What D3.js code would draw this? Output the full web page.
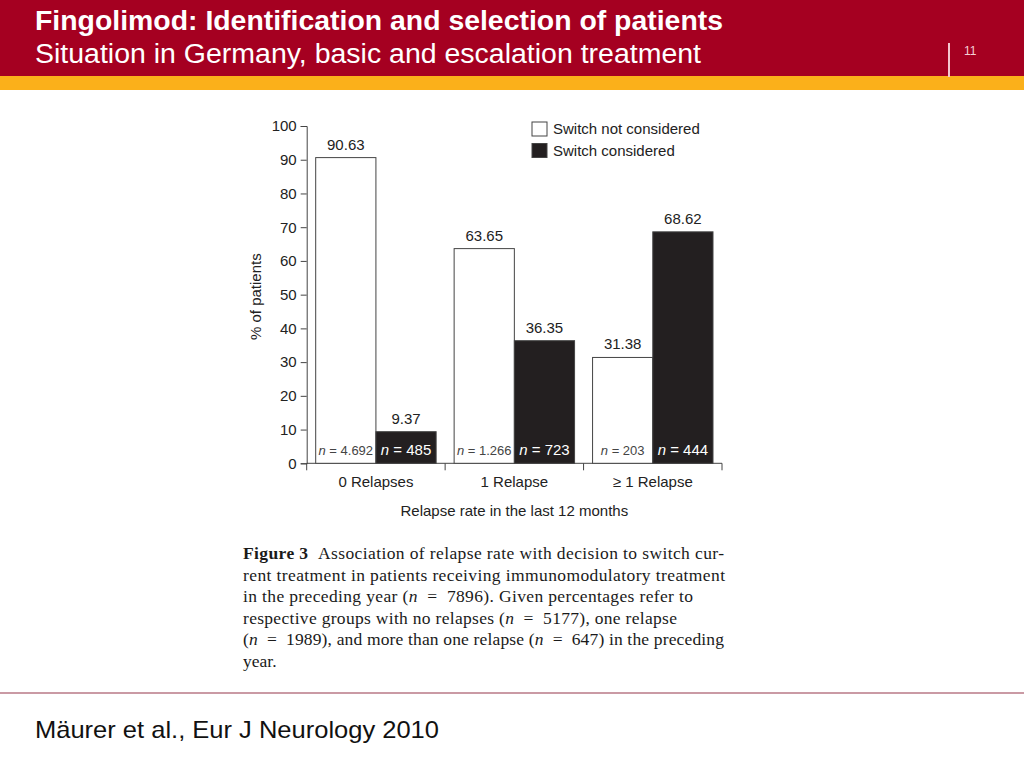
<!DOCTYPE html>
<html>
<head>
<meta charset="utf-8">
<script src="https://cdn.jsdelivr.net/npm/d3@7"></script>
<style>
  html, body { margin: 0; padding: 0; background: #fff; }
  svg { display: block; }
  text { font-family: "Liberation Sans", Arial, sans-serif; }
</style>
</head>
<body>
<svg id="slide" width="1024" height="768"></svg>
<script>
// --- daten ---
const categories    = ['0 Relapses', '1 Relapse', '\u2265 1 Relapse'];
const notConsidered = [90.63, 63.65, 31.38];
const considered    = [9.37, 36.35, 68.62];
const nNot          = ['4.692', '1.266', '203'];
const nCons         = ['485', '723', '444'];
const yTicks        = [0, 10, 20, 30, 40, 50, 60, 70, 80, 90, 100];
const series        = ['Switch not considered', 'Switch considered'];
const captionLines  = [
  'Association of relapse rate with decision to switch cur-',
  'rent treatment in patients receiving immunomodulatory treatment',
  'in the preceding year (n  =  7896). Given percentages refer to',
  'respective groups with no relapses (n  =  5177), one relapse',
  '(n  =  1989), and more than one relapse (n  =  647) in the preceding',
  'year.'
];
// rechter rand jeder zeile (0 = nicht gesperrt)
const captionEnds   = [724, 725, 693, 677, 724, 0];

const svg = d3.select('#slide');

// --- kopfzeile ---
svg.append('rect').attr('x', 0).attr('y', 0).attr('width', 1024).attr('height', 76).attr('fill', '#a50021');
svg.append('rect').attr('x', 0).attr('y', 76).attr('width', 1024).attr('height', 14).attr('fill', '#fbb01a');
svg.append('text').attr('x', 35).attr('y', 30)
  .attr('font-size', 27).attr('font-weight', 'bold').attr('fill', '#fff')
  .attr('textLength', 688).attr('lengthAdjust', 'spacingAndGlyphs')
  .text('Fingolimod: Identification and selection of patients');
svg.append('text').attr('x', 35).attr('y', 63)
  .attr('font-size', 27).attr('fill', '#fff')
  .attr('textLength', 666).attr('lengthAdjust', 'spacingAndGlyphs')
  .text('Situation in Germany, basic and escalation treatment');
svg.append('line').attr('x1', 949).attr('x2', 949).attr('y1', 43).attr('y2', 77)
  .attr('stroke', '#f4c6cf').attr('stroke-width', 2);
svg.append('text').attr('x', 964).attr('y', 55).attr('font-size', 12).attr('fill', '#f4d0d6').text('11');

// --- diagramm ---
const x0 = 306.7, x1 = 722, yTop = 126, yBase = 463.3;

const x = d3.scaleBand().domain(categories).range([x0, x1])
  .paddingInner(0.13).paddingOuter(0.065);
const xs = d3.scaleBand().domain([0, 1]).range([0, x.bandwidth()]);
const y = d3.scaleLinear().domain([0, 100]).range([yBase, yTop]);

const chart = svg.append('g');

// y-achse
const yAxis = chart.append('g').attr('transform', `translate(${x0},0)`)
  .call(d3.axisLeft(y).tickValues(yTicks).tickSize(6).tickPadding(4));
yAxis.selectAll('text').attr('font-size', 15).attr('fill', '#222')
  .style('font-family', '"Liberation Sans", Arial, sans-serif');
yAxis.selectAll('line, path').attr('stroke', '#444');

// x-achse
const xAxis = chart.append('g').attr('transform', `translate(0,${yBase})`);
xAxis.append('line').attr('x1', x0).attr('x2', x1).attr('y1', 0).attr('y2', 0).attr('stroke', '#444');
const bounds = categories.map(c => x(c) - x.step() * x.paddingOuter())
  .concat([x1]);
xAxis.selectAll('line.tk').data(bounds).join('line').attr('class', 'tk')
  .attr('x1', d => d).attr('x2', d => d).attr('y1', 0).attr('y2', 7).attr('stroke', '#444');
xAxis.selectAll('text.cat').data(categories).join('text').attr('class', 'cat')
  .attr('x', d => x(d) + x.bandwidth() / 2).attr('y', 24)
  .attr('text-anchor', 'middle').attr('font-size', 15).attr('fill', '#222')
  .text(d => d);

chart.append('text').attr('x', (x0 + x1) / 2).attr('y', 516)
  .attr('text-anchor', 'middle').attr('font-size', 15).attr('fill', '#222')
  .text('Relapse rate in the last 12 months');
chart.append('text').attr('transform', `translate(261,${(yTop + yBase) / 2 + 2}) rotate(-90)`)
  .attr('text-anchor', 'middle').attr('font-size', 15).attr('fill', '#222')
  .text('% of patients');

// balken
const rows = categories.map((c, i) => [
  { cat: c, k: 0, v: notConsidered[i], n: nNot[i] },
  { cat: c, k: 1, v: considered[i], n: nCons[i] }
]).flat();

chart.selectAll('rect.bar').data(rows).join('rect').attr('class', 'bar')
  .attr('x', d => x(d.cat) + xs(d.k)).attr('width', xs.bandwidth())
  .attr('y', d => y(d.v)).attr('height', d => yBase - y(d.v))
  .attr('fill', d => d.k ? '#231f20' : '#fff')
  .attr('stroke', '#444').attr('stroke-width', 1);

chart.selectAll('text.val').data(rows).join('text').attr('class', 'val')
  .attr('x', d => x(d.cat) + xs(d.k) + xs.bandwidth() / 2).attr('y', d => y(d.v) - 8)
  .attr('text-anchor', 'middle').attr('font-size', 15).attr('fill', '#222')
  .text(d => d.v.toFixed(2));

const nl = chart.selectAll('text.n').data(rows).join('text').attr('class', 'n')
  .attr('x', d => x(d.cat) + xs(d.k) + xs.bandwidth() / 2).attr('y', yBase - 8)
  .attr('text-anchor', 'middle').attr('font-size', d => d.k ? 15 : 13)
  .attr('fill', d => d.k ? '#fff' : '#444');
nl.append('tspan').attr('font-style', 'italic').text('n');
nl.append('tspan').text(d => ' = ' + d.n);

// legende
const lg = chart.selectAll('g.lg').data(series).join('g').attr('class', 'lg')
  .attr('transform', (d, i) => `translate(532,${122 + i * 21.5})`);
lg.append('rect').attr('width', 15).attr('height', 14)
  .attr('fill', (d, i) => i ? '#231f20' : '#fff').attr('stroke', '#444');
lg.append('text').attr('x', 21).attr('y', 12).attr('font-size', 15).attr('fill', '#222').text(d => d);

// bildunterschrift
const cap = svg.append('g');
captionLines.forEach((line, i) => {
  const t = cap.append('text').attr('x', 243).attr('y', 559 + i * 21.6)
    .attr('font-size', 17.5).attr('fill', '#1a1a1a')
    .style('font-family', '"Liberation Serif", "Times New Roman", serif')
    .style('white-space', 'pre');
  if (captionEnds[i]) t.attr('textLength', captionEnds[i] - 243).attr('lengthAdjust', 'spacing');
  if (i === 0) {
    t.append('tspan').attr('font-weight', 'bold').text('Figure 3  ');
  }
  // kursives n
  line.split(/(\bn\b)/).forEach(part => {
    const s = t.append('tspan').text(part);
    if (part === 'n') s.attr('font-style', 'italic');
  });
});

// fuß
svg.append('line').attr('x1', 0).attr('x2', 1024).attr('y1', 693).attr('y2', 693)
  .attr('stroke', '#b87886').attr('stroke-width', 1.5);
svg.append('text').attr('x', 35).attr('y', 738).attr('font-size', 24).attr('fill', '#111')
  .attr('textLength', 404).attr('lengthAdjust', 'spacingAndGlyphs')
  .text('Mäurer et al., Eur J Neurology 2010');
</script>
</body>
</html>
